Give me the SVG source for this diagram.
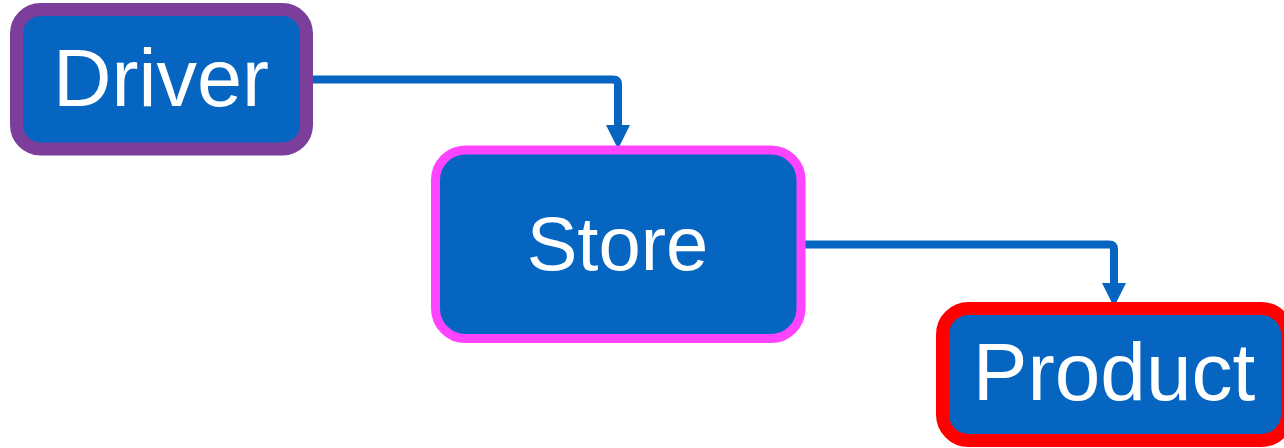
<svg xmlns="http://www.w3.org/2000/svg" width="1284" height="448" viewBox="0 0 1284 448">
  <defs>
    <style>
      .box { fill: #0565c0; }
      .label { fill: #ffffff; font-family: "Liberation Sans", Arial, Helvetica, sans-serif; text-anchor: middle; }
      .edge { fill: none; stroke: #0565c0; stroke-width: 8; stroke-linejoin: round; }
    </style>
    <marker id="arrow" markerUnits="userSpaceOnUse" markerWidth="24" markerHeight="24" refX="0" refY="12" orient="auto" viewBox="0 0 24 24">
      <path d="M0,0 L24,12 L0,24 Z" fill="#0565c0"/>
    </marker>
  </defs>

  <g id="connectors">
    <path class="edge" d="M306,79.5 H613 Q618,79.5 618,84.5 V125" marker-end="url(#arrow)"/>
    <path class="edge" d="M803,244.5 H1109 Q1114,244.5 1114,249.5 V283" marker-end="url(#arrow)"/>
  </g>

  <g id="driver">
    <rect class="box" x="16.5" y="9.5" width="290" height="139.5" rx="24" stroke="#7b3f9b" stroke-width="13"/>
    <text class="label" x="161" y="106" font-size="81">Driver</text>
  </g>

  <g id="store">
    <rect class="box" x="435.5" y="150" width="365.5" height="188.5" rx="30" stroke="#ff44ff" stroke-width="9"/>
    <text class="label" x="617.5" y="270" font-size="76">Store</text>
  </g>

  <g id="product">
    <rect class="box" x="942.5" y="308.5" width="345" height="132" rx="26" stroke="#ff0000" stroke-width="13"/>
    <text class="label" x="1114" y="400" font-size="82">Product</text>
  </g>
</svg>
